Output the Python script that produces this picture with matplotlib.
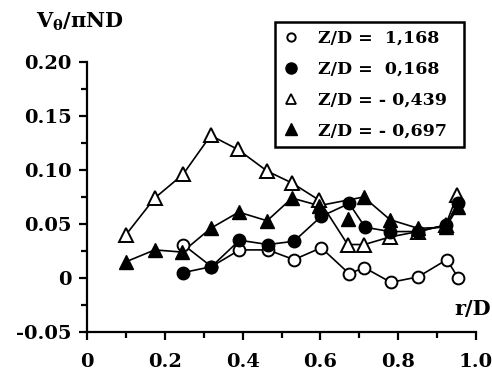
import matplotlib
matplotlib.use("Agg")
import matplotlib.pyplot as plt
from matplotlib.lines import Line2D

# Data
r_open_circ = [0.247, 0.32, 0.392, 0.465, 0.532, 0.602, 0.674, 0.713, 0.781, 0.851, 0.925, 0.955]
v_open_circ = [0.031, 0.0105, 0.026, 0.026, 0.017, 0.028, 0.004, 0.0096, -0.004, 0.001, 0.017, -0.0003]

r_fill_circ = [0.247, 0.32, 0.392, 0.465, 0.532, 0.602, 0.674, 0.715, 0.779, 0.851, 0.922, 0.955]
v_fill_circ = [0.005, 0.0105, 0.035, 0.031, 0.034, 0.057, 0.069, 0.047, 0.043, 0.043, 0.049, 0.069]

r_open_tri = [0.10, 0.174, 0.247, 0.318, 0.388, 0.463, 0.527, 0.597, 0.67, 0.713, 0.779, 0.851, 0.922, 0.952]
v_open_tri = [0.040, 0.074, 0.096, 0.132, 0.119, 0.099, 0.088, 0.072, 0.031, 0.031, 0.038, 0.043, 0.049, 0.077]

r_fill_tri = [0.10, 0.174, 0.245, 0.318, 0.39, 0.463, 0.527, 0.597, 0.67, 0.711, 0.779, 0.851, 0.922, 0.955]
v_fill_tri = [0.015, 0.026, 0.024, 0.046, 0.061, 0.053, 0.074, 0.067, 0.055, 0.075, 0.054, 0.046, 0.047, 0.066]
fill_tri_on_line = [True, True, True, True, True, True, True, True, False, True, True, True, True, True]

labels = ["Z/D =  1,168", "Z/D =  0,168", "Z/D = - 0,439", "Z/D = - 0,697"]
x_ticks = [0, 0.2, 0.4, 0.6, 0.8, 1.0]
x_ticklabels = ["0", "0.2", "0.4", "0.6", "0.8", "1.0"]
y_ticks = [-0.05, 0, 0.05, 0.10, 0.15, 0.20]
y_ticklabels = ["-0.05", "0", "0.05", "0.10", "0.15", "0.20"]

plt.rcParams['font.family'] = ['DejaVu Serif']
plt.rcParams['font.weight'] = 'bold'
plt.rcParams['mathtext.fontset'] = 'dejavuserif'

FS = 14

fig = plt.figure(figsize=(4.92, 3.75), dpi=100)
ax = fig.add_axes([87/492, 1-332/375, (476-87)/492, (332-62)/375])

lw = 1.2
mew = 1.4
ax.plot(r_open_circ, v_open_circ, '-', color='black', lw=lw, zorder=2)
ax.plot(r_open_circ, v_open_circ, 'o', ms=8.5, mfc='white', mec='black', mew=mew, zorder=3)
ax.plot(r_fill_circ, v_fill_circ, '-', color='black', lw=lw, zorder=2)
ax.plot(r_fill_circ, v_fill_circ, 'o', ms=9, mfc='black', mec='black', zorder=4)
ax.plot(r_open_tri, v_open_tri, '-', color='black', lw=lw, zorder=2)
ax.plot(r_open_tri, v_open_tri, '^', ms=10, mfc='white', mec='black', mew=mew, zorder=3)
rl = [r for r, k in zip(r_fill_tri, fill_tri_on_line) if k]
vl = [v for v, k in zip(v_fill_tri, fill_tri_on_line) if k]
ax.plot(rl, vl, '-', color='black', lw=lw, zorder=2)
ax.plot(r_fill_tri, v_fill_tri, '^', ms=10, mfc='black', mec='black', zorder=4)

ax.set_xlim(0, 1.0)
ax.set_ylim(-0.05, 0.20)
for s in ['top', 'right']:
    ax.spines[s].set_visible(False)
for s in ['left', 'bottom']:
    ax.spines[s].set_linewidth(1.6)
ax.set_xticks(x_ticks)
ax.set_xticklabels(x_ticklabels)
ax.set_yticks(y_ticks)
ax.set_yticklabels(y_ticklabels)
ax.set_xticks([0.1, 0.3, 0.5, 0.7, 0.9], minor=True)
ax.set_yticks([-0.025, 0.025, 0.075, 0.125, 0.175], minor=True)
ax.tick_params(which='major', direction='out', length=6, width=1.6, labelsize=FS, pad=5)
ax.tick_params(axis='x', which='major', pad=9)
ax.tick_params(which='minor', direction='out', length=4, width=1.6)
for t in ax.get_xticklabels() + ax.get_yticklabels():
    t.set_fontweight('bold')

fig.text(36/492, 1-28/375, r"V$_\mathbf{\theta}$/$\mathbf{\pi}$ND", fontsize=15, fontweight='bold',
         va='baseline', ha='left')
fig.text(491/492, 1-315/375, "r/D", fontsize=15, fontweight='bold', ha='right', va='baseline')

handles = [
    Line2D([], [], ls='none', marker='o', ms=6, mfc='white', mec='black', mew=1.4),
    Line2D([], [], ls='none', marker='o', ms=8, mfc='black', mec='black'),
    Line2D([], [], ls='none', marker='^', ms=7, mfc='white', mec='black', mew=1.3),
    Line2D([], [], ls='none', marker='^', ms=9, mfc='black', mec='black'),
]
leg = fig.legend(handles, labels, loc='upper left',
                 bbox_to_anchor=(275/492, 1-155/375, 189/492, 133/375), mode='expand',
                 frameon=True, fancybox=False, edgecolor='black', framealpha=1,
                 prop={'weight': 'bold', 'size': 12.5}, handlelength=1.0, handletextpad=1.05,
                 labelspacing=0.8, borderpad=0.45, borderaxespad=0)
leg.get_frame().set_linewidth(1.8)

fig.savefig("out.png", dpi=100)
